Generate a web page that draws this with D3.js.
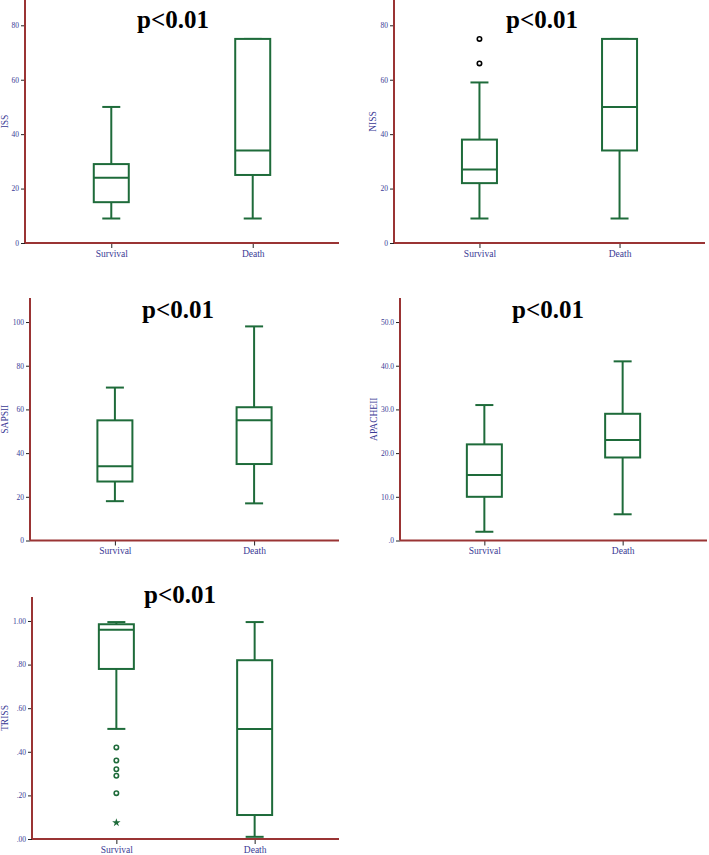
<!DOCTYPE html>
<html>
<head>
<meta charset="utf-8">
<script src="https://cdn.jsdelivr.net/npm/d3@7"></script>
<style>
  body { margin: 0; background: #fff; }
  svg { display: block; }
</style>
</head>
<body>
<div id="chart"></div>
<script>
// groups on x axis
const groups = ["Survival", "Death"];

// box stats per group: [lower whisker, Q1, median, Q3, upper whisker]
const issStats = [[9, 15, 24, 29, 50], [9, 25, 34, 75, 75]];
const nissStats = [[9, 22, 27, 38, 59], [9, 34, 50, 75, 75]];
const sapsStats = [[18, 27, 34, 55, 70], [17, 35, 55, 61, 98]];
const apacheStats = [[2, 10, 15, 22, 31], [6, 19, 23, 29, 41]];
const trissStats = [[0.505, 0.78, 0.96, 0.985, 0.995], [0.01, 0.11, 0.505, 0.82, 0.995]];

// outliers (circles) and extremes (stars), Survival group
const nissOutliers = [66, 75];
const trissOutliers = [0.42, 0.36, 0.32, 0.29, 0.21];
const trissExtremes = [0.075];

// y tick values
const issTicks = [0, 20, 40, 60, 80];
const sapsTicks = [0, 20, 40, 60, 80, 100];
const apacheTicks = [0, 10, 20, 30, 40, 50];
const trissTicks = [0, 0.2, 0.4, 0.6, 0.8, 1.0];

const pText = "p<0.01";

// spss style: drop leading zero
function spss(fmt) {
  var f = d3.format(fmt);
  return d => f(d).replace(/^0\./, ".");
}

// layout of each panel
const panels = [
  { label: "ISS", stats: issStats, ticks: issTicks, fmt: d3.format("d"), max: 89.3,
    x0: 25, x1: 339, yb: 243, yt: 0, lx: 8, ty: 28, out: [], ext: [], outColor: "#000" },
  { label: "NISS", stats: nissStats, ticks: issTicks, fmt: d3.format("d"), max: 89.3,
    x0: 394, x1: 705, yb: 243, yt: 0, lx: 376, ty: 28, out: nissOutliers, ext: [], outColor: "#000" },
  { label: "SAPSII", stats: sapsStats, ticks: sapsTicks, fmt: d3.format("d"), max: 111,
    x0: 30, x1: 339, yb: 540.5, yt: 298, lx: 8, ty: 318, out: [], ext: [], outColor: "#000" },
  { label: "APACHEII", stats: apacheStats, ticks: apacheTicks, fmt: spss(".1f"), max: 55.5,
    x0: 400, x1: 707, yb: 540.5, yt: 298, lx: 377, ty: 318, out: [], ext: [], outColor: "#000" },
  { label: "TRISS", stats: trissStats, ticks: trissTicks, fmt: spss(".2f"), max: 1.11,
    x0: 32, x1: 339, yb: 839, yt: 597, lx: 8, ty: 603, out: trissOutliers, ext: trissExtremes, outColor: "#1e6b3a" }
];

var width = 709, height = 855;
var svg = d3.select("#chart").append("svg").attr("width", width).attr("height", height);

var green = "#1e6b3a";
var axisRed = "#9a3434";
var navy = "#3a3a95";
var serif = "'Liberation Serif', 'Times New Roman', serif";

panels.forEach(p => {
  var g = svg.append("g");

  var x = d3.scalePoint().domain(groups).range([p.x0, p.x1]).padding(0.61);
  var y = d3.scaleLinear().domain([0, p.max]).range([p.yb, p.yt]);

  // y axis ticks + labels
  var yAxis = g.append("g")
    .attr("transform", "translate(" + p.x0 + ",0)")
    .call(d3.axisLeft(y).tickValues(p.ticks).tickFormat(p.fmt).tickSize(4).tickPadding(2));
  yAxis.select(".domain").remove();
  yAxis.selectAll("line").attr("stroke", "#222");
  yAxis.selectAll("text").attr("fill", navy).style("font-family", serif).style("font-size", "7.5px");

  // x axis ticks + labels
  var xAxis = g.append("g")
    .attr("transform", "translate(0," + p.yb + ")")
    .call(d3.axisBottom(x).tickSize(5).tickPadding(2));
  xAxis.select(".domain").remove();
  xAxis.selectAll("line").attr("stroke", "#222");
  xAxis.selectAll("text").attr("fill", navy).style("font-family", serif).style("font-size", "9.5px");

  // axis lines
  g.append("line").attr("x1", p.x0).attr("x2", p.x0).attr("y1", p.yt).attr("y2", p.yb)
    .attr("stroke", axisRed).attr("stroke-width", 2);
  g.append("line").attr("x1", p.x0).attr("x2", p.x1).attr("y1", p.yb).attr("y2", p.yb)
    .attr("stroke", axisRed).attr("stroke-width", 2);

  // y label
  g.append("text")
    .attr("transform", "translate(" + p.lx + "," + ((p.yb + p.yt) / 2) + ") rotate(-90)")
    .attr("text-anchor", "middle")
    .attr("fill", navy)
    .style("font-family", serif).style("font-size", "9.5px")
    .text(p.label);

  // boxes
  var bw = 35, cw = 18;
  var boxes = g.selectAll(".box").data(p.stats).enter().append("g")
    .attr("transform", (d, i) => "translate(" + x(groups[i]) + ",0)");

  boxes.append("line").attr("y1", d => y(d[0])).attr("y2", d => y(d[1]))
    .attr("stroke", green).attr("stroke-width", 2);
  boxes.append("line").attr("y1", d => y(d[3])).attr("y2", d => y(d[4]))
    .attr("stroke", green).attr("stroke-width", 2);
  boxes.append("line").attr("x1", -cw / 2).attr("x2", cw / 2)
    .attr("y1", d => y(d[0])).attr("y2", d => y(d[0]))
    .attr("stroke", green).attr("stroke-width", 2);
  boxes.append("line").attr("x1", -cw / 2).attr("x2", cw / 2)
    .attr("y1", d => y(d[4])).attr("y2", d => y(d[4]))
    .attr("stroke", green).attr("stroke-width", 2);
  boxes.append("rect")
    .attr("x", -bw / 2).attr("width", bw)
    .attr("y", d => y(d[3])).attr("height", d => y(d[1]) - y(d[3]))
    .attr("fill", "#fff").attr("stroke", green).attr("stroke-width", 2);
  boxes.append("line").attr("x1", -bw / 2).attr("x2", bw / 2)
    .attr("y1", d => y(d[2])).attr("y2", d => y(d[2]))
    .attr("stroke", green).attr("stroke-width", 2);

  // outliers
  g.selectAll(".out").data(p.out).enter().append("circle")
    .attr("cx", x(groups[0])).attr("cy", d => y(d)).attr("r", 2.2)
    .attr("fill", "#fff").attr("stroke", p.outColor).attr("stroke-width", 1.6);

  // extremes
  g.selectAll(".ext").data(p.ext).enter().append("path")
    .attr("d", d3.symbol().type(d3.symbolStar).size(22))
    .attr("transform", d => "translate(" + x(groups[0]) + "," + y(d) + ")")
    .attr("fill", p.outColor);

  // p value title
  g.append("text")
    .attr("x", p.x0 + 148)
    .attr("y", p.ty)
    .attr("text-anchor", "middle")
    .style("font-family", serif).style("font-weight", "bold").style("font-size", "25px")
    .attr("fill", "#000")
    .text(pText);
});
</script>
</body>
</html>
